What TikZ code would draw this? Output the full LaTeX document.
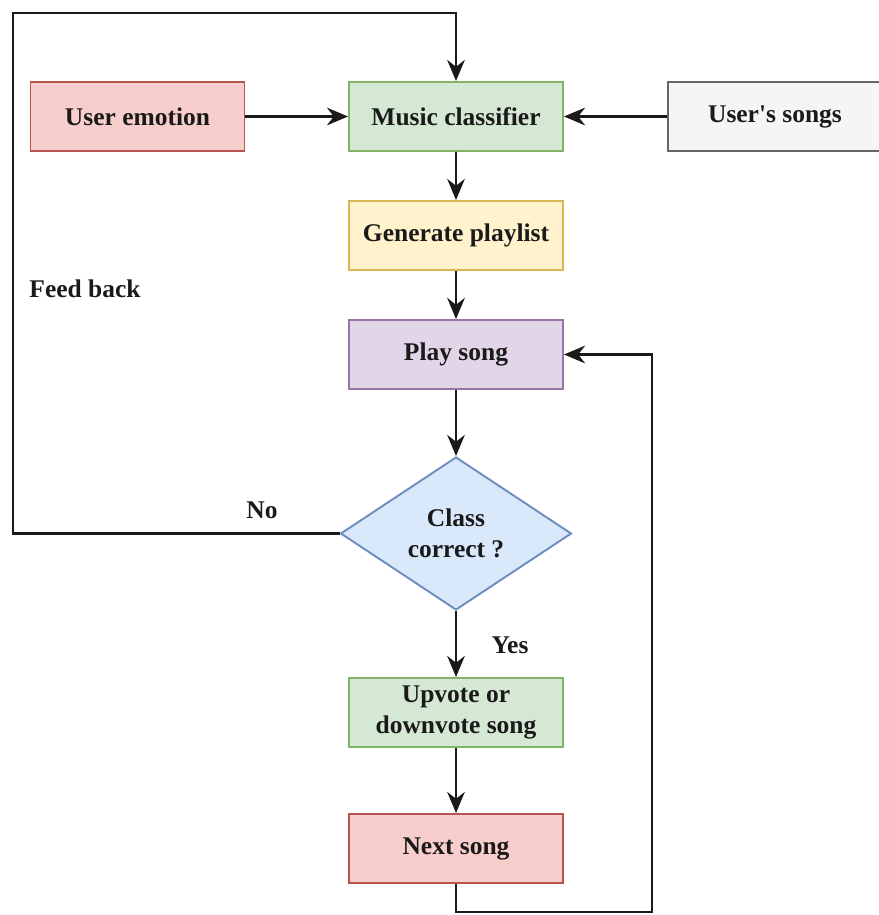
\documentclass[tikz,border=0pt]{standalone}
\usepackage{fontspec}
\setmainfont{Liberation Serif}
\usetikzlibrary{shapes.geometric,arrows.meta}
\definecolor{redF}{HTML}{F8CECC}
\definecolor{redD}{HTML}{B85450}
\definecolor{greenF}{HTML}{D5E8D4}
\definecolor{greenD}{HTML}{82B366}
\definecolor{grayF}{HTML}{F5F5F5}
\definecolor{grayD}{HTML}{666666}
\definecolor{yellowF}{HTML}{FFF2CC}
\definecolor{yellowD}{HTML}{D6B656}
\definecolor{purpleF}{HTML}{E1D5E7}
\definecolor{purpleD}{HTML}{9673A6}
\definecolor{blueF}{HTML}{DAE8FC}
\definecolor{blueD}{HTML}{6C8EBF}
\definecolor{ink}{HTML}{1A1A1A}
\tikzset{
  box/.style={rectangle, line width=1.1pt, minimum width=4.28cm, minimum height=1.38cm,
    inner sep=2pt, align=center, text=ink, font=\fontsize{14.5}{18}\selectfont\bfseries},
  dec/.style={diamond, line width=1.1pt, minimum width=4.62cm, minimum height=3.06cm,
    inner sep=0pt, align=center, text=ink, font=\fontsize{14.5}{18}\selectfont\bfseries},
  arr/.style={draw=ink, line width=1.5pt, -{Stealth[length=12pt,width=10pt]}},
  lab/.style={text=ink, font=\fontsize{14.5}{18}\selectfont\bfseries},
}
\begin{document}
\begin{tikzpicture}[x=0.02cm,y=-0.02cm]
  \useasboundingbox (0,0) rectangle (878,915);
  % boxes
  \node[box,fill=redF,draw=redD] (emo) at (137.5,116.5) {User emotion};
  \node[box,fill=greenF,draw=greenD] (cls) at (456,116.5) {Music classifier};
  \node[box,fill=grayF,draw=grayD] (songs) at (775,116.5) {User\textquotesingle s songs};
  \node[box,fill=yellowF,draw=yellowD] (gen) at (456,235.5) {Generate playlist};
  \node[box,fill=purpleF,draw=purpleD] (play) at (456,354.5) {Play song};
  \node[dec,fill=blueF,draw=blueD] (chk) at (456,533.5) {Class\\correct ?};
  \node[box,fill=greenF,draw=greenD] (vote) at (456,712.5) {Upvote or\\downvote song};
  \node[box,fill=redF,draw=redD] (next) at (456,848.5) {Next song};
  % labels
  \node[lab] (fbl) at (85,289) {Feed back};
  \node[lab] (nol) at (262,510) {No};
  \node[lab] (yesl) at (510,645) {Yes};
  % loop corners
  \coordinate (fbA) at (13,533.5);
  \coordinate (fbB) at (13,13);
  \coordinate (lpA) at (652,912);
  % connectors
  \draw[arr] (emo) -- (cls);
  \draw[arr] (songs) -- (cls);
  \draw[arr] (cls) -- (gen);
  \draw[arr] (gen) -- (play);
  \draw[arr] (play) -- (chk);
  \draw[arr] (chk) -- (vote);
  \draw[arr] (vote) -- (next);
  \draw[arr] (chk.west) -- (fbA) -- (fbB) -| (cls.north);
  \draw[arr] (next.south) |- (lpA) |- (play.east);
\end{tikzpicture}
\end{document}
